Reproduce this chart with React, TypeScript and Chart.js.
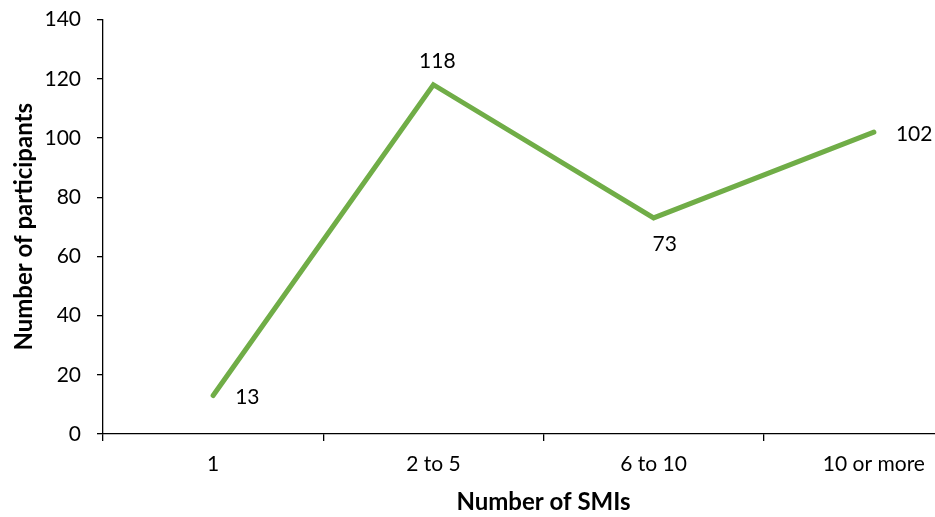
import React, { useEffect, useRef } from "react";
import { Chart, registerables } from "chart.js";

Chart.register(...registerables);

const categories = ["1", "2 to 5", "6 to 10", "10 or more"];
const participants = [13, 118, 73, 102];
const yTicks = [0, 20, 40, 60, 80, 100, 120, 140];

const FONT = "Lato, 'Liberation Sans', sans-serif";
const labelPlacement = ["right", "above", "below", "right"];

const valueLabels = {
  id: "valueLabels",
  afterDatasetsDraw(chart: any) {
    const ctx = chart.ctx;
    const meta = chart.getDatasetMeta(0);
    ctx.save();
    ctx.font = `21px ${FONT}`;
    ctx.fillStyle = "#000";
    meta.data.forEach((pt: any, i: number) => {
      const v = chart.data.datasets[0].data[i];
      const pos = labelPlacement[i];
      let x = pt.x;
      let y = pt.y;
      if (pos === "right") {
        ctx.textAlign = "left";
        ctx.textBaseline = "middle";
        x += 22;
        y += 2;
      } else if (pos === "above") {
        ctx.textAlign = "center";
        ctx.textBaseline = "bottom";
        x += 4;
        y -= 13;
      } else {
        ctx.textAlign = "center";
        ctx.textBaseline = "top";
        x += 11;
        y += 16;
      }
      ctx.fillText(String(v), x, y);
    });
    ctx.restore();
  },
};

export default function App() {
  const ref = useRef<HTMLCanvasElement>(null);
  useEffect(() => {
    if (!ref.current) return;
    const chart = new Chart(ref.current, {
      type: "line",
      data: {
        labels: categories,
        datasets: [
          {
            data: participants,
            borderColor: "#70AD47",
            borderWidth: 5,
            pointRadius: 0,
            borderCapStyle: "round",
            borderJoinStyle: "miter",
            tension: 0,
            fill: false,
          },
        ],
      },
      options: {
        animation: false,
        responsive: false,
        maintainAspectRatio: false,
        layout: { padding: { top: 10, right: 6, left: 0, bottom: 0 } },
        plugins: {
          legend: { display: false },
          tooltip: { enabled: false },
        },
        scales: {
          x: {
            type: "category",
            offset: true,
            afterFit: (s: any) => {
              s.height = 83;
            },
            grid: {
              offset: true,
              drawOnChartArea: false,
              drawTicks: true,
              tickLength: 7,
              color: "#000",
              lineWidth: 1.3,
            },
            border: { display: true, color: "#000", width: 1.3 },
            ticks: {
              color: "#000",
              font: { family: FONT, size: 21 },
              padding: 11,
              maxRotation: 0,
            },
            title: {
              display: true,
              text: "Number of SMIs",
              color: "#000",
              font: { family: FONT, size: 24, weight: "bold" },
              padding: { top: 0, bottom: 0 },
            },
          },
          y: {
            min: 0,
            max: 140,
            afterFit: (s: any) => {
              s.width = 103;
            },
            afterBuildTicks: (s: any) => {
              s.ticks = yTicks.map((v) => ({ value: v }));
            },
            grid: {
              drawOnChartArea: false,
              drawTicks: true,
              tickLength: 6,
              color: "#000",
              lineWidth: 1.3,
            },
            border: { display: true, color: "#000", width: 1.3 },
            ticks: {
              color: "#000",
              font: { family: FONT, size: 21 },
              padding: 16,
            },
            title: {
              display: true,
              text: "Number of participants",
              color: "#000",
              font: { family: FONT, size: 24, weight: "bold" },
              padding: { top: 10, bottom: 0 },
            },
          },
        },
      },
      plugins: [valueLabels],
    } as any);
    return () => chart.destroy();
  }, []);
  return (
    <div style={{ position: "fixed", left: 0, top: 0, width: 935, height: 517, overflow: "hidden", background: "#fff" }}>
      <canvas
        ref={ref}
        width={990}
        height={526}
        style={{ position: "absolute", left: 0, top: -9, width: 990, height: 526, display: "block" }}
      />
    </div>
  );
}
